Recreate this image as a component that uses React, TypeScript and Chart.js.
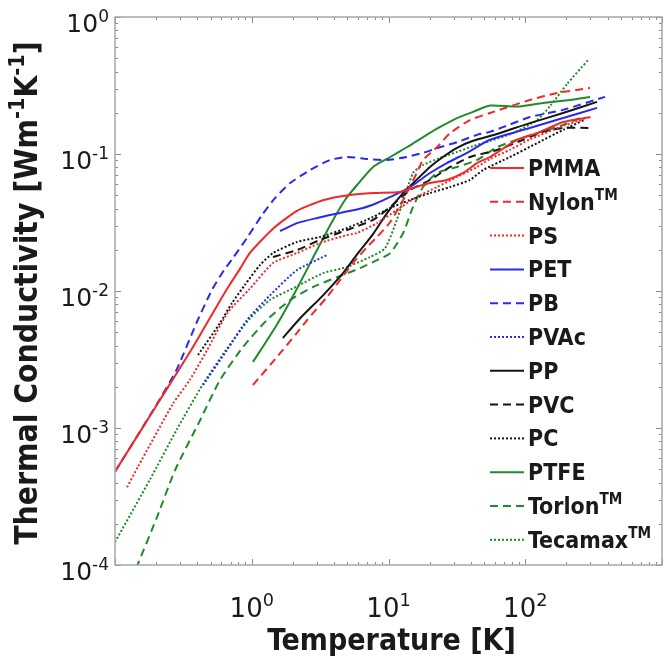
import React, { useEffect, useRef } from "react";
import { Chart, registerables } from "chart.js";

Chart.register(...registerables);

// [temperature K, conductivity W/mK]
const pmma: [number, number][] = [
  [0.1, 0.00048], [0.213, 0.0016], [0.372, 0.0039], [0.586, 0.0085], [0.693, 0.0112],
  [0.82, 0.0145], [0.97, 0.019], [1.43, 0.0285], [2.14, 0.0385], [3.32, 0.046],
  [5.22, 0.0502], [7.71, 0.0519], [12.1, 0.0528], [15.1, 0.0565], [20.1, 0.0614],
  [26.7, 0.0646], [35.1, 0.0727], [44.4, 0.0859], [55.2, 0.0951], [87, 0.127],
  [122, 0.142], [189, 0.171], [300, 0.186],
];
const nylon: [number, number][] = [
  [1.02, 0.00206], [1.53, 0.0033], [2.14, 0.00494], [2.54, 0.00614], [3.55, 0.00904],
  [4.42, 0.012], [5.5, 0.016], [6.97, 0.0209], [8.24, 0.0248], [10.3, 0.0319],
  [12.8, 0.0462], [16.1, 0.0727], [17.9, 0.0904], [22.6, 0.112], [28.2, 0.142],
  [39.4, 0.177], [55.2, 0.199], [108, 0.248], [171, 0.279], [298, 0.303],
];
const ps: [number, number][] = [
  [0.1225, 0.00037], [0.147, 0.00052], [0.265, 0.0015], [0.353, 0.00225], [0.471, 0.0037],
  [0.67, 0.007], [0.97, 0.0104], [1.43, 0.016], [2.14, 0.0189], [3.16, 0.0224],
  [4.98, 0.0256], [5.89, 0.0265], [8.24, 0.0313], [11.5, 0.039], [16.1, 0.0486],
  [22.6, 0.0574], [31.7, 0.068], [44.4, 0.0804], [55.2, 0.092], [77, 0.107],
  [108, 0.128], [189, 0.16], [270, 0.18],
];
const pet: [number, number][] = [
  [1.61, 0.0274], [2.14, 0.0313], [3.0, 0.0341], [4.42, 0.0371], [6.52, 0.0404],
  [8.24, 0.0439], [10.3, 0.0486], [14.4, 0.0574], [20.1, 0.0727], [26.7, 0.0859],
  [37.5, 0.102], [55.2, 0.127], [108, 0.155], [189, 0.183], [335, 0.217],
];
const pb: [number, number][] = [
  [0.1, 0.00048], [0.203, 0.0015], [0.284, 0.0027], [0.397, 0.00594], [0.512, 0.0102],
  [0.627, 0.0142], [0.729, 0.0174], [0.923, 0.0244], [1.19, 0.0359], [1.48, 0.0477],
  [1.91, 0.0614], [2.67, 0.0764], [3.73, 0.0904], [4.98, 0.0951], [6.97, 0.092],
  [9.75, 0.0904], [13.6, 0.0951], [17.9, 0.102], [23.7, 0.112], [31.7, 0.122],
  [44.4, 0.138], [55.2, 0.145], [68.7, 0.157], [108, 0.186], [189, 0.21], [383, 0.261],
];
const pvac: [number, number][] = [
  [0.441, 0.00206], [0.659, 0.00371], [0.923, 0.00614], [1.36, 0.0093], [2.14, 0.0142],
  [3.55, 0.0183],
];
const pp: [number, number][] = [
  [1.69, 0.00454], [2.25, 0.0063], [3.32, 0.0093], [4.65, 0.0135], [5.89, 0.0185],
  [7.71, 0.026], [9.75, 0.037], [12.8, 0.052], [16.1, 0.065], [20.1, 0.0804],
  [25, 0.0951], [31.7, 0.111], [41.5, 0.125], [62, 0.14], [108, 0.168],
  [189, 0.199], [335, 0.24],
];
const pvc: [number, number][] = [
  [1.43, 0.0177], [2.14, 0.0199], [3.16, 0.0236], [4.98, 0.0279], [7.71, 0.033],
  [10.3, 0.041], [14.4, 0.0546], [20.1, 0.0646], [28.2, 0.0804], [39.4, 0.0951],
  [62.1, 0.107], [96.4, 0.127], [135, 0.145], [189, 0.155], [298, 0.155],
];
const pc: [number, number][] = [
  [0.405, 0.00341], [0.586, 0.00584], [0.717, 0.00817], [0.892, 0.0111], [1.15, 0.0155],
  [1.43, 0.0189], [2.14, 0.0228], [3.16, 0.0248], [4.98, 0.0288], [7.71, 0.0347],
  [10.3, 0.0404], [14.4, 0.0462], [20.1, 0.0519], [28.2, 0.0574], [39.4, 0.0646],
  [49.1, 0.0764], [77.4, 0.0951], [122, 0.12], [189, 0.15], [270, 0.177],
];
const ptfe: [number, number][] = [
  [1.02, 0.00303], [1.53, 0.0057], [2.14, 0.0104], [3.0, 0.0199], [3.93, 0.033],
  [4.81, 0.0462], [5.89, 0.0594], [7.71, 0.0804], [10.3, 0.0951], [13.6, 0.112],
  [17.9, 0.133], [23.7, 0.157], [31.7, 0.183], [41.5, 0.203], [55.2, 0.226],
  [87.1, 0.222], [135, 0.236], [212, 0.248], [298, 0.261],
];
const torlon: [number, number][] = [
  [0.143, 0.000095], [0.203, 0.000224], [0.275, 0.000493], [0.419, 0.00114], [0.586, 0.00224],
  [0.863, 0.0039], [1.29, 0.00614], [1.91, 0.00859], [2.81, 0.0107], [4.2, 0.0126],
  [6.19, 0.0147], [8.24, 0.0168], [10.3, 0.0189], [12.8, 0.0265], [15.1, 0.041],
  [17.9, 0.0574], [22.6, 0.0727], [31.7, 0.0804], [44.4, 0.0904], [62.1, 0.112],
  [87.1, 0.127], [122, 0.142], [189, 0.163], [252, 0.183],
];
const tecamax: [number, number][] = [
  [0.1, 0.000147], [0.18, 0.00042], [0.284, 0.00098], [0.441, 0.0021], [0.659, 0.0038],
  [0.97, 0.0063], [1.36, 0.0086], [2.14, 0.0108], [3.32, 0.0135], [4.98, 0.015],
  [7.33, 0.0177], [9.43, 0.0205], [11.5, 0.033], [15.1, 0.0727], [17.9, 0.0831],
  [23.7, 0.0935], [31.7, 0.1035], [41.5, 0.114], [55.2, 0.1245], [81.4, 0.142],
  [122, 0.177], [152, 0.224], [202, 0.324], [288, 0.485],
];

const seriesNames = [
  "PMMA", "Nylon^{TM}", "PS", "PET", "PB", "PVAc",
  "PP", "PVC", "PC", "PTFE", "Torlon^{TM}", "Tecamax^{TM}",
];
const seriesData = [pmma, nylon, ps, pet, pb, pvac, pp, pvc, pc, ptfe, torlon, tecamax];

const xTickExponents = [0, 1, 2];
const yTickExponents = [0, -1, -2, -3, -4];
const xTitle = "Temperature [K]";
const yTitle = "Thermal Conductivity [Wm^{-1}K^{-1}]";

const RED = "#ee2a2a";
const BLUE = "#2a2aee";
const BLACK = "#151515";
const GREEN = "#1f8c2a";
const SOLID: number[] = [];
const DASH = [8, 5];
const DOT = [2, 2];
const seriesStyle: { color: string; dash: number[] }[] = [
  { color: RED, dash: SOLID }, { color: RED, dash: DASH }, { color: RED, dash: DOT },
  { color: BLUE, dash: SOLID }, { color: BLUE, dash: DASH }, { color: BLUE, dash: DOT },
  { color: BLACK, dash: SOLID }, { color: BLACK, dash: DASH }, { color: BLACK, dash: DOT },
  { color: GREEN, dash: SOLID }, { color: GREEN, dash: DASH }, { color: GREEN, dash: DOT },
];

const FAMILY = '"DejaVu Sans Condensed", "DejaVu Sans", sans-serif';
const TICK_FAMILY = '"DejaVu Sans", sans-serif';
const TEXT = "#1a1a1a";

function parseRich(s: string) {
  const runs: { text: string; sup: boolean; w: number }[] = [];
  const re = /\^\{([^}]*)\}/g;
  let last = 0;
  let m: RegExpExecArray | null;
  while ((m = re.exec(s))) {
    if (m.index > last) runs.push({ text: s.slice(last, m.index), sup: false, w: 0 });
    runs.push({ text: m[1], sup: true, w: 0 });
    last = re.lastIndex;
  }
  if (last < s.length) runs.push({ text: s.slice(last), sup: false, w: 0 });
  return runs;
}

function drawRich(
  ctx: CanvasRenderingContext2D, s: string, x: number, y: number,
  size: number, weight: string, family: string, align: "left" | "center" | "right",
  supScale = 0.68,
) {
  const runs = parseRich(s);
  const font = (sup: boolean) => `${weight} ${sup ? size * supScale : size}px ${family}`;
  let w = 0;
  for (const r of runs) {
    ctx.font = font(r.sup);
    r.w = ctx.measureText(r.text).width;
    w += r.w;
  }
  let cx = align === "center" ? x - w / 2 : align === "right" ? x - w : x;
  ctx.textAlign = "left";
  ctx.textBaseline = "alphabetic";
  for (const r of runs) {
    ctx.font = font(r.sup);
    ctx.fillText(r.text, cx, r.sup ? y - size * 0.42 : y);
    cx += r.w;
  }
}

function logTicks(minExp: number, maxExp: number) {
  const out: { value: number; major: boolean }[] = [];
  for (let e = minExp; e < maxExp; e++) {
    for (let m = 1; m < 10; m++) out.push({ value: m * Math.pow(10, e), major: m === 1 });
  }
  out.push({ value: Math.pow(10, maxExp), major: true });
  return out;
}

const decor = {
  id: "decor",
  afterDraw(chart: any) {
    const { ctx, chartArea: a, scales } = chart;
    const xs = scales.x;
    const ys = scales.y;
    ctx.save();

    // inward ticks on all four sides
    ctx.strokeStyle = "#8a8a8a";
    ctx.lineWidth = 1;
    ctx.beginPath();
    for (const t of xs.ticks) {
      const px = Math.round(xs.getPixelForValue(t.value)) + 0.5;
      const len = t.major ? 6 : 3;
      ctx.moveTo(px, a.bottom); ctx.lineTo(px, a.bottom - len);
      ctx.moveTo(px, a.top); ctx.lineTo(px, a.top + len);
    }
    for (const t of ys.ticks) {
      const py = Math.round(ys.getPixelForValue(t.value)) + 0.5;
      const len = t.major ? 6 : 3;
      ctx.moveTo(a.left, py); ctx.lineTo(a.left + len, py);
      ctx.moveTo(a.right, py); ctx.lineTo(a.right - len, py);
    }
    ctx.stroke();

    // axes box
    ctx.strokeStyle = "#a6a6a6";
    ctx.lineWidth = 1.5;
    ctx.strokeRect(a.left, a.top, a.right - a.left, a.bottom - a.top);

    ctx.fillStyle = TEXT;
    // tick labels
    for (const e of xTickExponents) {
      const px = xs.getPixelForValue(Math.pow(10, e));
      drawRich(ctx, `10^{${e}}`, px, 617, 26, "normal", TICK_FAMILY, "center");
    }
    for (const e of yTickExponents) {
      const py = ys.getPixelForValue(Math.pow(10, e));
      drawRich(ctx, `10^{${e}}`, a.left - 6, py + 15, 25, "normal", TICK_FAMILY, "right");
    }

    // axis titles
    drawRich(ctx, xTitle, (a.left + a.right) / 2 + 3, 650, 30, "bold", FAMILY, "center");
    ctx.save();
    ctx.translate(37, (a.top + a.bottom) / 2 + 2);
    ctx.rotate(-Math.PI / 2);
    drawRich(ctx, yTitle, 0, 0, 31.5, "bold", FAMILY, "center");
    ctx.restore();

    // legend inside the axes
    const lx = 490;
    const y0 = 168;
    const step = 33.8;
    chart.data.datasets.forEach((ds: any, i: number) => {
      const y = y0 + i * step;
      ctx.strokeStyle = ds.borderColor;
      ctx.lineWidth = ds.borderWidth;
      ctx.setLineDash(ds.borderDash || []);
      ctx.beginPath();
      ctx.moveTo(lx, y);
      ctx.lineTo(lx + 34, y);
      ctx.stroke();
      ctx.setLineDash([]);
      ctx.fillStyle = TEXT;
      drawRich(ctx, ds.label, lx + 38, y + 8, 23, "bold", FAMILY, "left", 0.66);
    });

    ctx.restore();
  },
};

const App: React.FC = () => {
  const canvasRef = useRef<HTMLCanvasElement | null>(null);

  useEffect(() => {
    if (!canvasRef.current) return;
    const chart = new Chart(canvasRef.current, {
      type: "line",
      data: {
        datasets: seriesData.map((d, i) => ({
          label: seriesNames[i],
          data: d.map(([x, y]) => ({ x, y })),
          borderColor: seriesStyle[i].color,
          borderDash: seriesStyle[i].dash,
          borderWidth: 2,
          pointRadius: 0,
          fill: false,
          tension: 0.2,
        })),
      },
      options: {
        animation: false,
        responsive: true,
        maintainAspectRatio: false,
        layout: { padding: { left: 0, top: 17, right: 3, bottom: 0 } },
        plugins: { legend: { display: false }, tooltip: { enabled: false } },
        scales: {
          x: {
            type: "logarithmic",
            min: 0.1,
            max: 1000,
            afterBuildTicks: (s: any) => { s.ticks = logTicks(-1, 3); },
            afterFit: (s: any) => { s.height = 94; },
            ticks: { display: false },
            grid: { display: false },
            border: { display: false },
          },
          y: {
            type: "logarithmic",
            min: 0.0001,
            max: 1,
            afterBuildTicks: (s: any) => { s.ticks = logTicks(-4, 0); },
            afterFit: (s: any) => { s.width = 115; },
            ticks: { display: false },
            grid: { display: false },
            border: { display: false },
          },
        },
      },
      plugins: [decor],
    });
    return () => chart.destroy();
  }, []);

  return (
    <div style={{ position: "fixed", left: 0, top: 0, width: 665, height: 659, background: "#fff" }}>
      <canvas ref={canvasRef} />
    </div>
  );
};

export default App;
